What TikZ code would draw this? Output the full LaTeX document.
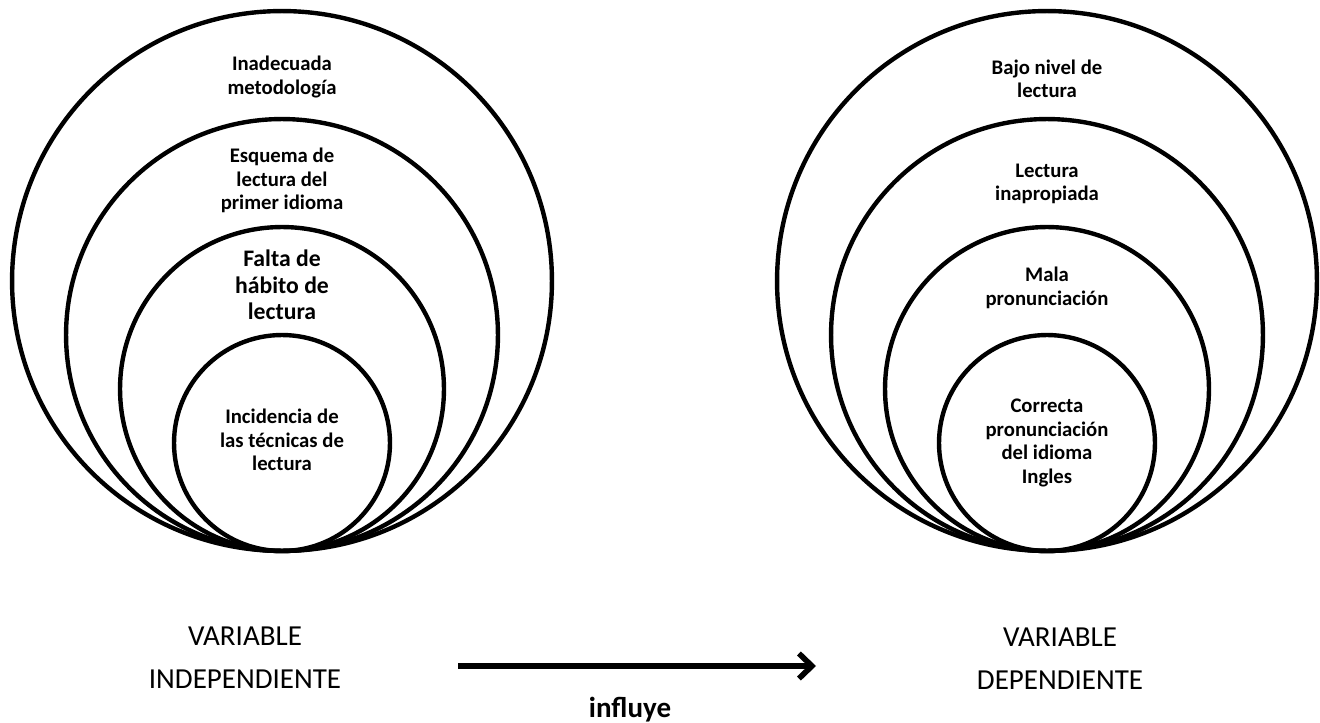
\documentclass[tikz,border=0pt]{standalone}
\usepackage{fontspec}
\setmainfont{Carlito}
\usetikzlibrary{arrows.meta}

\begin{document}
\begin{tikzpicture}[
    x=0.02cm, y=-0.02cm,
    ring/.style={circle, draw, line width=2.5pt, inner sep=0pt},
    tag/.style={align=center, font=\fontsize{11.8}{13.4}\selectfont\bfseries},
    bigtag/.style={align=center, font=\fontsize{13.5}{15}\selectfont\bfseries},
    varname/.style={align=center, font=\fontsize{16.5}{24.5}\selectfont}
]
    \useasboundingbox (0,0) rectangle (1320,723);

    % Circulos
    \foreach \r/\d/\n in {270/10.8/1, 216/8.64/2, 162/6.48/3, 108/4.32/4} {
        \node[ring, minimum size=\d cm] (ind\n) at (282,551-\r) {};
        \node[ring, minimum size=\d cm] (dep\n) at (1047,551-\r) {};
    }

    % Variable independiente
    \node[tag] (t1) at (282,77) {Inadecuada\\metodología};
    \node[tag] (t2) at (282,180.5) {Esquema de\\lectura del\\primer idioma};
    \node[bigtag] (t3) at (282,285) {Falta de\\hábito de\\lectura};
    \node[tag] (t4) at (282,440) {Incidencia de\\las técnicas de\\lectura};

    % Variable dependiente
    \node[tag] (s1) at (1047,78.6) {Bajo nivel de\\lectura};
    \node[tag] (s2) at (1047,184) {Lectura\\inapropiada};
    \node[tag] (s3) at (1047,288) {Mala\\pronunciación};
    \node[tag] (s4) at (1047,443) {Correcta\\pronunciación\\del idioma\\Ingles};

    % Variables
    \node[varname] (vi) at (245,658) {VARIABLE\\INDEPENDIENTE};
    \node[varname] (vd) at (1060,659) {VARIABLE\\DEPENDIENTE};

    % Flecha
    \coordinate (a) at (458,666);
    \coordinate (b) at (816,666);
    \draw[line width=3.2pt, -{Straight Barb[length=2.6mm, width=5mm]}] (a) -- (b);
    \node[font=\fontsize{16.5}{19}\selectfont\bfseries] (inf) at (630,710) {influye};
\end{tikzpicture}
\end{document}
